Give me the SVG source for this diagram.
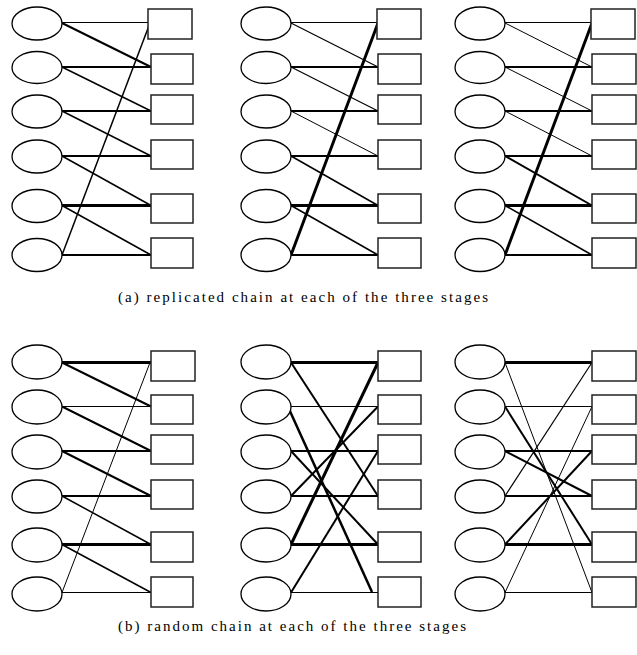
<svg xmlns="http://www.w3.org/2000/svg" width="637" height="655" viewBox="0 0 637 655">
<style>
.bg{fill:#fff}
ellipse{fill:#fff;stroke:#000;stroke-width:1.3}
rect.n{fill:#fff;stroke:#222;stroke-width:1.5}
line{stroke:#000;stroke-linecap:butt}
.w1{stroke-width:1}
.w12{stroke-width:1.2}
.w15{stroke-width:1.5}
.w2{stroke-width:2}
.w25{stroke-width:2.5}
.w3{stroke-width:3}
text{font-family:"Liberation Serif","Times New Roman",serif;font-size:15px;fill:#000}
</style>
<rect class="bg" x="0" y="0" width="637" height="655"/>
<g id="connectors">
<!-- top-left -->
<line class="w1" x1="62" y1="22.5" x2="148" y2="22.5"/>
<line class="w2" x1="62" y1="23" x2="151" y2="67"/>
<line class="w2" x1="62" y1="67" x2="151" y2="67"/>
<line class="w15" x1="62" y1="67" x2="151" y2="111"/>
<line class="w2" x1="62" y1="111" x2="151" y2="111"/>
<line class="w15" x1="62" y1="111" x2="151" y2="156"/>
<line class="w2" x1="62" y1="156" x2="151" y2="156"/>
<line class="w15" x1="62" y1="156" x2="151" y2="205.5"/>
<line class="w3" x1="62" y1="205.5" x2="151" y2="205.5"/>
<line class="w15" x1="62" y1="205.5" x2="151" y2="255"/>
<line class="w2" x1="62" y1="255" x2="151" y2="255"/>
<line class="w15" x1="62" y1="255" x2="150" y2="23"/>
<!-- top-middle -->
<line class="w1" x1="291" y1="22.5" x2="377" y2="22.5"/>
<line class="w12" x1="291" y1="23" x2="378" y2="67"/>
<line class="w2" x1="291" y1="67" x2="378" y2="67"/>
<line class="w12" x1="291" y1="67" x2="378" y2="111"/>
<line class="w2" x1="291" y1="111" x2="378" y2="111"/>
<line class="w1" x1="291" y1="111" x2="378" y2="156"/>
<line class="w2" x1="291" y1="156" x2="378" y2="156"/>
<line class="w15" x1="291" y1="156" x2="378" y2="205.5"/>
<line class="w3" x1="291" y1="205.5" x2="378" y2="205.5"/>
<line class="w15" x1="291" y1="205.5" x2="378" y2="255"/>
<line class="w2" x1="291" y1="255" x2="378" y2="255"/>
<line class="w3" x1="291" y1="255" x2="378" y2="23"/>
<!-- top-right -->
<line class="w1" x1="505" y1="22.5" x2="591" y2="22.5"/>
<line class="w1" x1="505" y1="23" x2="592" y2="67"/>
<line class="w2" x1="505" y1="67" x2="592" y2="67"/>
<line class="w1" x1="505" y1="67" x2="592" y2="111"/>
<line class="w2" x1="505" y1="111" x2="592" y2="111"/>
<line class="w1" x1="505" y1="111" x2="592" y2="156"/>
<line class="w2" x1="505" y1="156" x2="592" y2="156"/>
<line class="w2" x1="505" y1="156" x2="592" y2="205.5"/>
<line class="w3" x1="505" y1="205.5" x2="592" y2="205.5"/>
<line class="w15" x1="505" y1="205.5" x2="592" y2="255"/>
<line class="w2" x1="505" y1="255" x2="592" y2="255"/>
<line class="w3" x1="505" y1="255" x2="592" y2="23"/>
<!-- bottom-left -->
<line class="w3" x1="62" y1="362.5" x2="151" y2="362.5"/>
<line class="w2" x1="62" y1="362.5" x2="151" y2="406.5"/>
<line class="w1" x1="62" y1="406.5" x2="151" y2="406.5"/>
<line class="w2" x1="62" y1="406.5" x2="151" y2="451"/>
<line class="w2" x1="62" y1="451" x2="151" y2="451"/>
<line class="w2" x1="62" y1="451" x2="151" y2="496"/>
<line class="w2" x1="62" y1="496" x2="151" y2="496"/>
<line class="w15" x1="62" y1="496" x2="151" y2="544.5"/>
<line class="w3" x1="62" y1="544.5" x2="151" y2="544.5"/>
<line class="w15" x1="62" y1="544.5" x2="151" y2="592.5"/>
<line class="w1" x1="62" y1="592.5" x2="151" y2="592.5"/>
<line class="w1" x1="62" y1="592.5" x2="150" y2="362.5"/>
<!-- bottom-middle -->
<line class="w3" x1="291" y1="362.5" x2="378" y2="362.5"/>
<line class="w2" x1="291" y1="362.5" x2="378" y2="496"/>
<line class="w1" x1="291" y1="406.5" x2="378" y2="406.5"/>
<line class="w25" x1="289" y1="409" x2="372" y2="592"/>
<line class="w2" x1="291" y1="451" x2="378" y2="451"/>
<line class="w2" x1="291" y1="451" x2="378" y2="544.5"/>
<line class="w2" x1="291" y1="496" x2="378" y2="496"/>
<line class="w2" x1="291" y1="496" x2="378" y2="406.5"/>
<line class="w3" x1="291" y1="544.5" x2="378" y2="544.5"/>
<line class="w3" x1="291" y1="544.5" x2="378" y2="362.5"/>
<line class="w1" x1="291" y1="592.5" x2="378" y2="592.5"/>
<line class="w2" x1="291" y1="592.5" x2="378" y2="451"/>
<!-- bottom-right -->
<line class="w3" x1="505" y1="362.5" x2="592" y2="362.5"/>
<line class="w1" x1="505" y1="362.5" x2="592" y2="592.5"/>
<line class="w1" x1="505" y1="406.5" x2="592" y2="406.5"/>
<line class="w2" x1="505" y1="406.5" x2="592" y2="544.5"/>
<line class="w2" x1="505" y1="451" x2="592" y2="451"/>
<line class="w2" x1="505" y1="451" x2="592" y2="496"/>
<line class="w2" x1="505" y1="496" x2="592" y2="496"/>
<line class="w12" x1="505" y1="496" x2="592" y2="362.5"/>
<line class="w3" x1="505" y1="544.5" x2="592" y2="544.5"/>
<line class="w2" x1="505" y1="544.5" x2="592" y2="451"/>
<line class="w1" x1="505" y1="592.5" x2="592" y2="592.5"/>
<line class="w1" x1="505" y1="592.5" x2="592" y2="406.5"/>
</g>
<!-- top-left nodes -->
<g id="a1-e1"><ellipse cx="37" cy="23.5" rx="25" ry="16.5"/></g>
<g id="a1-e2"><ellipse cx="37" cy="67.5" rx="25" ry="16"/></g>
<g id="a1-e3"><ellipse cx="37" cy="111.5" rx="25" ry="16.5"/></g>
<g id="a1-e4"><ellipse cx="37" cy="156.5" rx="25" ry="16.5"/></g>
<g id="a1-e5"><ellipse cx="37" cy="206" rx="25" ry="16.5"/></g>
<g id="a1-e6"><ellipse cx="37" cy="255" rx="25" ry="16.5"/></g>
<g id="a1-r1"><rect class="n" x="148" y="9" width="44" height="30"/></g>
<g id="a1-r2"><rect class="n" x="151" y="54" width="42" height="30"/></g>
<g id="a1-r3"><rect class="n" x="151" y="95" width="42" height="29"/></g>
<g id="a1-r4"><rect class="n" x="151" y="140" width="42" height="29"/></g>
<g id="a1-r5"><rect class="n" x="151" y="194" width="42" height="29"/></g>
<g id="a1-r6"><rect class="n" x="151" y="238" width="42" height="30"/></g>
<!-- top-middle nodes -->
<g id="a2-e1"><ellipse cx="266" cy="23.5" rx="25" ry="16.5"/></g>
<g id="a2-e2"><ellipse cx="266" cy="67.5" rx="25" ry="16"/></g>
<g id="a2-e3"><ellipse cx="266" cy="111.5" rx="25" ry="16.5"/></g>
<g id="a2-e4"><ellipse cx="266" cy="156.5" rx="25" ry="16.5"/></g>
<g id="a2-e5"><ellipse cx="266" cy="206" rx="25" ry="16.5"/></g>
<g id="a2-e6"><ellipse cx="266" cy="255" rx="25" ry="16.5"/></g>
<g id="a2-r1"><rect class="n" x="377" y="9" width="44" height="30"/></g>
<g id="a2-r2"><rect class="n" x="378" y="54" width="43" height="30"/></g>
<g id="a2-r3"><rect class="n" x="378" y="95" width="43" height="29"/></g>
<g id="a2-r4"><rect class="n" x="378" y="140" width="43" height="29"/></g>
<g id="a2-r5"><rect class="n" x="378" y="194" width="43" height="29"/></g>
<g id="a2-r6"><rect class="n" x="378" y="238" width="43" height="30"/></g>
<!-- top-right nodes -->
<g id="a3-e1"><ellipse cx="480" cy="23.5" rx="25" ry="16.5"/></g>
<g id="a3-e2"><ellipse cx="480" cy="67.5" rx="25" ry="16"/></g>
<g id="a3-e3"><ellipse cx="480" cy="111.5" rx="25" ry="16.5"/></g>
<g id="a3-e4"><ellipse cx="480" cy="156.5" rx="25" ry="16.5"/></g>
<g id="a3-e5"><ellipse cx="480" cy="206" rx="25" ry="16.5"/></g>
<g id="a3-e6"><ellipse cx="480" cy="255" rx="25" ry="16.5"/></g>
<g id="a3-r1"><rect class="n" x="591" y="9" width="44" height="30"/></g>
<g id="a3-r2"><rect class="n" x="592" y="54" width="44" height="30"/></g>
<g id="a3-r3"><rect class="n" x="592" y="95" width="44" height="29"/></g>
<g id="a3-r4"><rect class="n" x="592" y="140" width="44" height="29"/></g>
<g id="a3-r5"><rect class="n" x="592" y="194" width="44" height="29"/></g>
<g id="a3-r6"><rect class="n" x="592" y="238" width="44" height="30"/></g>
<!-- bottom-left nodes -->
<g id="b1-e1"><ellipse cx="37" cy="362" rx="25" ry="17"/></g>
<g id="b1-e2"><ellipse cx="37" cy="407" rx="25" ry="17"/></g>
<g id="b1-e3"><ellipse cx="37" cy="452" rx="25" ry="17"/></g>
<g id="b1-e4"><ellipse cx="37" cy="496.5" rx="25" ry="16.5"/></g>
<g id="b1-e5"><ellipse cx="37" cy="545" rx="25" ry="17"/></g>
<g id="b1-e6"><ellipse cx="37" cy="594" rx="25" ry="17"/></g>
<g id="b1-r1"><rect class="n" x="151" y="351" width="44" height="30"/></g>
<g id="b1-r2"><rect class="n" x="151" y="395" width="42" height="29"/></g>
<g id="b1-r3"><rect class="n" x="151" y="435" width="42" height="29"/></g>
<g id="b1-r4"><rect class="n" x="151" y="480" width="42" height="29"/></g>
<g id="b1-r5"><rect class="n" x="151" y="532" width="42" height="30"/></g>
<g id="b1-r6"><rect class="n" x="151" y="577" width="42" height="30"/></g>
<!-- bottom-middle nodes -->
<g id="b2-e1"><ellipse cx="266" cy="362" rx="25" ry="17"/></g>
<g id="b2-e2"><ellipse cx="266" cy="407" rx="25" ry="17"/></g>
<g id="b2-e3"><ellipse cx="266" cy="452" rx="25" ry="17"/></g>
<g id="b2-e4"><ellipse cx="266" cy="496.5" rx="25" ry="16.5"/></g>
<g id="b2-e5"><ellipse cx="266" cy="545" rx="25" ry="17"/></g>
<g id="b2-e6"><ellipse cx="266" cy="594" rx="25" ry="17"/></g>
<g id="b2-r1"><rect class="n" x="378" y="351" width="43" height="30"/></g>
<g id="b2-r2"><rect class="n" x="378" y="395" width="43" height="29"/></g>
<g id="b2-r3"><rect class="n" x="378" y="435" width="43" height="29"/></g>
<g id="b2-r4"><rect class="n" x="378" y="480" width="43" height="29"/></g>
<g id="b2-r5"><rect class="n" x="378" y="532" width="43" height="30"/></g>
<g id="b2-r6"><rect class="n" x="378" y="577" width="43" height="30"/></g>
<!-- bottom-right nodes -->
<g id="b3-e1"><ellipse cx="480" cy="362" rx="25" ry="17"/></g>
<g id="b3-e2"><ellipse cx="480" cy="407" rx="25" ry="17"/></g>
<g id="b3-e3"><ellipse cx="480" cy="452" rx="25" ry="17"/></g>
<g id="b3-e4"><ellipse cx="480" cy="496.5" rx="25" ry="16.5"/></g>
<g id="b3-e5"><ellipse cx="480" cy="545" rx="25" ry="17"/></g>
<g id="b3-e6"><ellipse cx="480" cy="594" rx="25" ry="17"/></g>
<g id="b3-r1"><rect class="n" x="592" y="351" width="44" height="30"/></g>
<g id="b3-r2"><rect class="n" x="592" y="395" width="44" height="29"/></g>
<g id="b3-r3"><rect class="n" x="592" y="435" width="44" height="29"/></g>
<g id="b3-r4"><rect class="n" x="592" y="480" width="44" height="29"/></g>
<g id="b3-r5"><rect class="n" x="592" y="532" width="44" height="30"/></g>
<g id="b3-r6"><rect class="n" x="592" y="577" width="44" height="30"/></g>
<g id="captions">
<text x="118" y="302" textLength="370" lengthAdjust="spacing">(a) replicated chain at each of the three stages</text>
<text x="118" y="631" textLength="348" lengthAdjust="spacing">(b) random chain at each of the three stages</text>
</g>
</svg>
